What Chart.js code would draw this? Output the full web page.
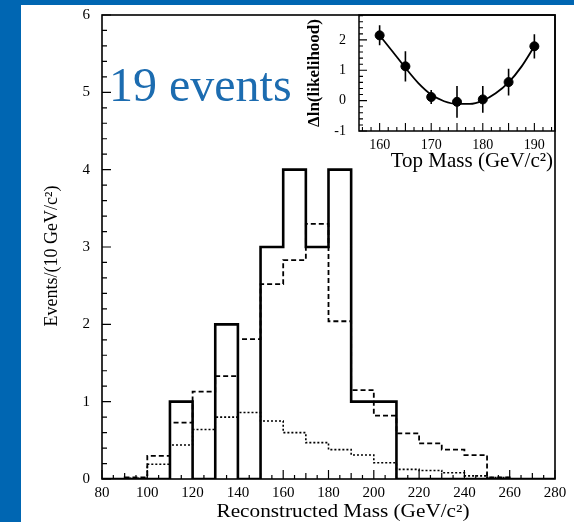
<!DOCTYPE html>
<html><head><meta charset="utf-8">
<script src="https://cdn.jsdelivr.net/npm/chart.js@4.4.1/dist/chart.umd.min.js"></script>
<style>
html,body{margin:0;padding:0;background:#0066b2;width:574px;height:522px;overflow:hidden;}
#paper{position:absolute;left:21px;top:5px;width:553px;height:517px;background:#fff;}
#main{position:absolute;left:0;top:0;}
#inset{position:absolute;left:290px;top:0;}
</style></head><body>
<div id="paper"></div>
<canvas id="main" width="574" height="522"></canvas>
<canvas id="inset" width="284" height="185"></canvas>
<script>
// ---- main histogram data (lower bin edges, 10 GeV wide) ----
const binLow = [80,90,100,110,120,130,140,150,160,170,180,190,200,210,220,230,240,250,260,270];
const binHigh = 280;
const dataCounts = [0,0,0,1,0,2,0,3,4,3,4,1,1,0,0,0,0,0,0,0];
const sigPlusBg = [0,0.02,0.30,0.73,1.13,1.33,1.81,2.52,2.83,3.30,2.04,1.15,0.82,0.59,0.46,0.38,0.31,0.02,0,0];
const bgOnly = [0,0.01,0.19,0.44,0.64,0.80,0.86,0.75,0.60,0.47,0.38,0.31,0.21,0.125,0.11,0.08,0.04,0.02,0,0];
const xTickLabels = [80,100,120,140,160,180,200,220,240,260,280];
const yTickLabels = [0,1,2,3,4,5,6];

// ---- inset: likelihood scan ----
const topMass = [160,165,170,175,180,185,190];
const dLnL = [2.15,1.13,0.12,-0.04,0.04,0.61,1.79];
const dLnLErr = [0.33,0.5,0.23,0.52,0.44,0.44,0.4];
const fitMass = [160,162.5,165,167.5,170,172.5,175,177.5,180,182.5,185,187.5,190];
const fitCurve = [2.15,1.62,1.08,0.58,0.2,-0.02,-0.11,-0.11,0.0,0.24,0.6,1.12,1.79];

Chart.defaults.font.family = '"Liberation Serif", "Times New Roman", serif';
Chart.defaults.color = '#000';
Chart.defaults.animation = false;

function stepPoints(vals) {
  const pts = binLow.map((x, i) => ({x: x, y: vals[i]}));
  pts.push({x: binHigh, y: vals[vals.length - 1]});
  return pts;
}

const mainDecor = {
  id: 'mainDecor',
  afterDraw(chart) {
    const {ctx, chartArea: a, scales: {x, y}} = chart;
    ctx.save();
    ctx.strokeStyle = '#000';
    ctx.lineWidth = 1.6;
    ctx.strokeRect(a.left, a.top, a.right - a.left, a.bottom - a.top);
    ctx.lineWidth = 1.2;
    ctx.beginPath();
    for (let v = 80; v <= 280; v += 5) {
      const px = x.getPixelForValue(v);
      const len = v % 20 === 0 ? 9 : (v % 10 === 0 ? 6 : 4);
      ctx.moveTo(px, a.bottom); ctx.lineTo(px, a.bottom - len);
    }
    for (let i = 0; i <= 30; i++) {
      const py = y.getPixelForValue(i / 5);
      const len = i % 5 === 0 ? 9 : 5;
      ctx.moveTo(a.left, py); ctx.lineTo(a.left + len, py);
    }
    ctx.stroke();
    // x title
    ctx.fillStyle = '#000';
    ctx.font = '18px "Liberation Serif"';
    ctx.textBaseline = 'alphabetic';
    ctx.textAlign = 'center';
    const xt = 'Reconstructed Mass (GeV/c²)';
    const w = ctx.measureText(xt).width;
    ctx.save();
    ctx.translate(343, 517);
    ctx.scale(253 / w, 1);
    ctx.fillText(xt, 0, 0);
    ctx.restore();
    // y title
    ctx.save();
    ctx.translate(57, 256);
    ctx.rotate(-Math.PI / 2);
    ctx.font = '18px "Liberation Serif"';
    ctx.textAlign = 'center';
    ctx.textBaseline = 'alphabetic';
    ctx.fillText('Events/(10 GeV/c²)', 0, 0);
    ctx.restore();
    // annotation
    ctx.font = '48px "Liberation Serif"';
    ctx.fillStyle = '#1c6cb0';
    ctx.textAlign = 'left';
    ctx.textBaseline = 'alphabetic';
    ctx.fillText('19 events', 109, 101);
    ctx.restore();
  }
};

new Chart(document.getElementById('main'), {
  type: 'line',
  data: {
    datasets: [
      {label: 'Data', data: stepPoints(dataCounts), stepped: 'before', borderColor: '#000', borderWidth: 2.6, pointRadius: 0, fill: false},
      {label: 'Signal + background', data: stepPoints(sigPlusBg), stepped: 'before', borderColor: '#000', borderWidth: 1.8, borderDash: [5, 3], pointRadius: 0, fill: false},
      {label: 'Background', data: stepPoints(bgOnly), stepped: 'before', borderColor: '#000', borderWidth: 1.6, borderDash: [2, 2], pointRadius: 0, fill: false}
    ]
  },
  options: {
    responsive: false,
    devicePixelRatio: 1,
    layout: {padding: {left: 21, top: 15, right: 19, bottom: 0}},
    plugins: {legend: {display: false}, tooltip: {enabled: false}},
    scales: {
      x: {
        type: 'linear', min: 80, max: 280,
        grid: {display: false}, border: {display: false},
        afterBuildTicks: s => { s.ticks = xTickLabels.map(v => ({value: v})); },
        ticks: {padding: -3, font: {size: 15}, color: '#000'},
        afterFit: s => { s.height = 43; }
      },
      y: {
        type: 'linear', min: 0, max: 6,
        grid: {display: false}, border: {display: false},
        afterBuildTicks: s => { s.ticks = yTickLabels.map(v => ({value: v})); },
        ticks: {padding: 4, font: {size: 15}, color: '#000'},
        afterFit: s => { s.width = 81; }
      }
    }
  },
  plugins: [mainDecor]
});

const insetDecor = {
  id: 'insetDecor',
  afterDatasetsDraw(chart) {
    const {ctx, chartArea: a, scales: {x, y}} = chart;
    ctx.save();
    ctx.strokeStyle = '#000';
    ctx.lineWidth = 1.6;
    ctx.beginPath();
    topMass.forEach((m, i) => {
      const px = x.getPixelForValue(m);
      ctx.moveTo(px, y.getPixelForValue(dLnL[i] - dLnLErr[i]));
      ctx.lineTo(px, y.getPixelForValue(dLnL[i] + dLnLErr[i]));
    });
    ctx.stroke();
    ctx.lineWidth = 1.5;
    ctx.strokeRect(a.left, a.top, a.right - a.left, a.bottom - a.top);
    ctx.lineWidth = 1.1;
    ctx.beginPath();
    for (let i = 0; ; i++) {
      const v = 155 + i * 5 / 3;
      if (v > 194) break;
      if (v < 156) continue;
      const px = x.getPixelForValue(v);
      const len = i % 3 === 0 ? 8 : 4;
      ctx.moveTo(px, a.bottom); ctx.lineTo(px, a.bottom - len);
    }
    for (let i = -5; i <= 14; i++) {
      const py = y.getPixelForValue(i / 5);
      const len = i % 5 === 0 ? 8 : 4;
      ctx.moveTo(a.left, py); ctx.lineTo(a.left + len, py);
    }
    ctx.stroke();
    ctx.fillStyle = '#000';
    ctx.font = '21px "Liberation Serif"';
    ctx.textAlign = 'right';
    ctx.textBaseline = 'middle';
    ctx.fillText('Top Mass (GeV/c²)', 553 - 290, 161);
    ctx.save();
    ctx.translate(315 - 290, 73);
    ctx.rotate(-Math.PI / 2);
    ctx.font = 'bold 17px "Liberation Serif"';
    ctx.textAlign = 'center';
    ctx.textBaseline = 'middle';
    ctx.fillText('Δln(likelihood)', 0, 0);
    ctx.restore();
    ctx.restore();
  }
};

new Chart(document.getElementById('inset'), {
  type: 'line',
  data: {
    datasets: [
      {label: 'Scan', data: topMass.map((m, i) => ({x: m, y: dLnL[i]})), showLine: false, pointRadius: 4.5, pointBackgroundColor: '#000', pointBorderColor: '#000', borderColor: '#000'},
      {label: 'Fit', data: fitMass.map((m, i) => ({x: m, y: fitCurve[i]})), borderColor: '#000', borderWidth: 1.8, pointRadius: 0, cubicInterpolationMode: 'monotone', fill: false}
    ]
  },
  options: {
    responsive: false,
    devicePixelRatio: 1,
    layout: {padding: {left: 15, top: 15, right: 19, bottom: 0}},
    plugins: {legend: {display: false}, tooltip: {enabled: false}},
    scales: {
      x: {
        type: 'linear', min: 156, max: 194,
        grid: {display: false}, border: {display: false},
        ticks: {stepSize: 10, includeBounds: false, padding: -2, font: {size: 14}, color: '#000'},
        afterFit: s => { s.height = 54; }
      },
      y: {
        type: 'linear', min: -1, max: 2.82,
        grid: {display: false}, border: {display: false},
        ticks: {stepSize: 1, includeBounds: false, padding: 5, font: {size: 14}, color: '#000'},
        afterFit: s => { s.width = 54; }
      }
    }
  },
  plugins: [insetDecor]
});
</script>
</body></html>
